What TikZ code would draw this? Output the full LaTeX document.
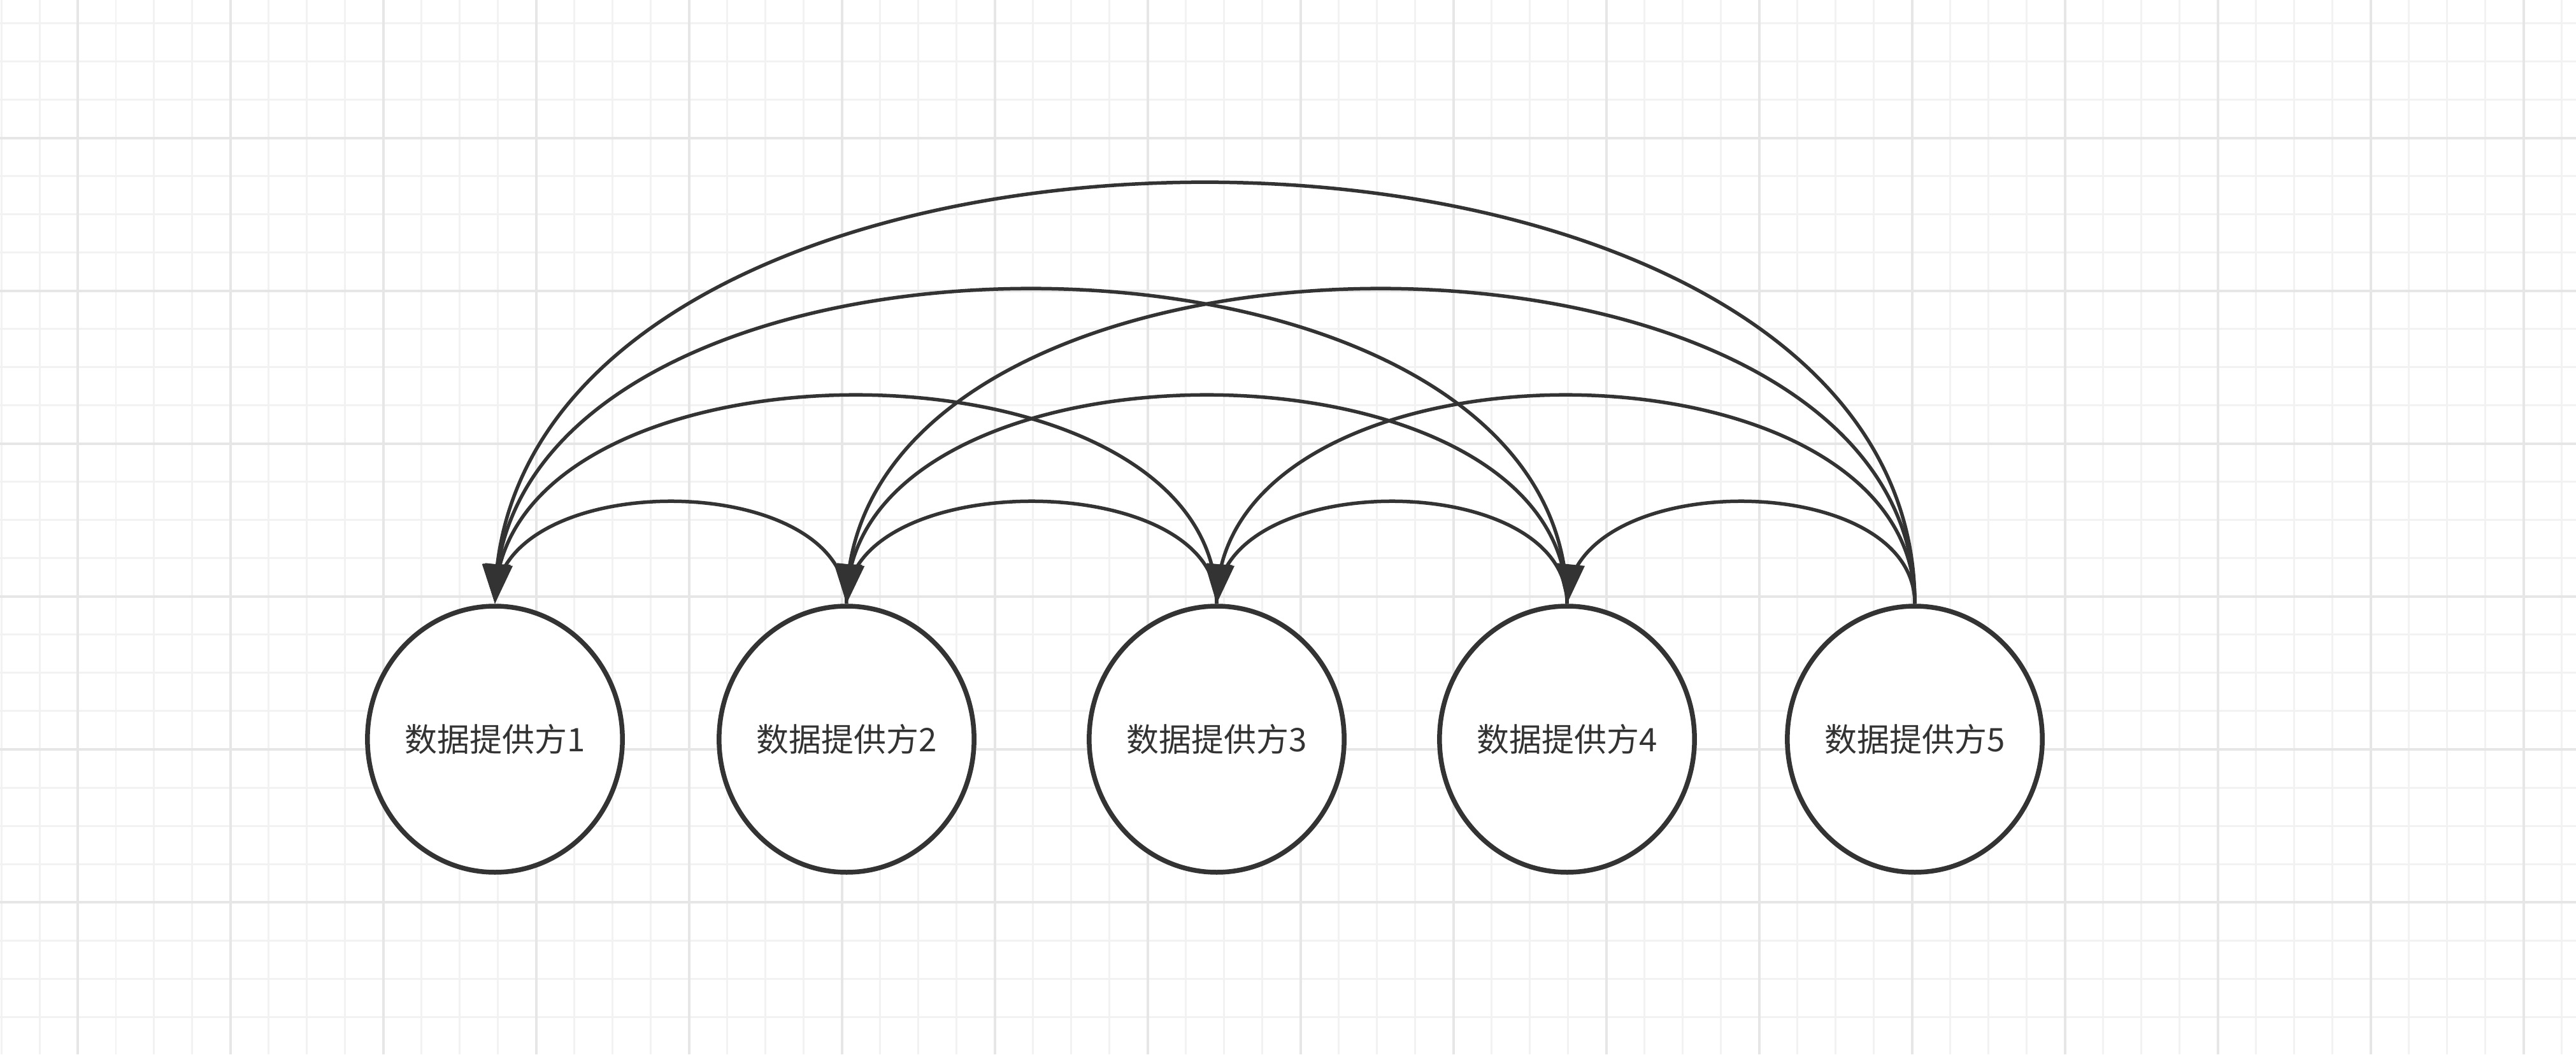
\documentclass[tikz,border=0pt]{standalone}
\usepackage{fontspec}
\setmainfont{Noto Sans CJK SC}
\usetikzlibrary{calc,arrows.meta,bending,shapes.geometric}
\definecolor{ink}{HTML}{333333}
\definecolor{gridlo}{HTML}{F2F2F2}
\definecolor{gridhi}{HTML}{E6E6E6}

\begin{document}
\begin{tikzpicture}
% styles
[
    party/.style={ellipse, draw=ink, line width=0.075cm, fill=white,
      minimum width=4cm, minimum height=4.18cm, inner sep=0pt,
      text=ink, font=\fontsize{14.5pt}{17pt}\selectfont},
    link/.style={ink, line width=0.055cm,
      -{Triangle[length=0.62cm,width=0.42cm,flex=0.4]}}
]
% canvas
\useasboundingbox (0,0) rectangle (40.44,16.56);
\fill[white] (0,0) rectangle (40.44,16.56);

% grid
\foreach \x in {0.02,0.62,...,40.44} \draw[gridlo,line width=0.03cm] (\x,0) -- (\x,16.56);
\foreach \y in {0.59,1.19,...,16.56} \draw[gridlo,line width=0.03cm] (0,\y) -- (40.44,\y);
\foreach \x in {1.22,3.62,...,40.44} \draw[gridhi,line width=0.04cm] (\x,0) -- (\x,16.56);
\foreach \y in {2.39,4.79,...,16.56} \draw[gridhi,line width=0.04cm] (0,\y) -- (40.44,\y);

% data providers
\pgfmathsetmacro{\cy}{4.95}
\foreach \n/\x in {1/7.77,2/13.29,3/19.10,4/24.60,5/30.06}
  \node[party] (P\n) at (\x,\cy) {数据提供方\n};

% links: every provider points to each one left of it
\pgfmathsetmacro{\h}{2.227} % control height per step
\foreach \i in {2,...,5} {
  \pgfmathtruncatemacro{\k}{\i-1}
  \foreach \j in {1,...,\k} {
    \pgfmathsetmacro{\c}{\h*(\i-\j)-0.08}
    \draw[link] (P\i.north) .. controls +(0,\c) and +(0,\c) .. (P\j.north);
  }
}
\end{tikzpicture}
\end{document}
